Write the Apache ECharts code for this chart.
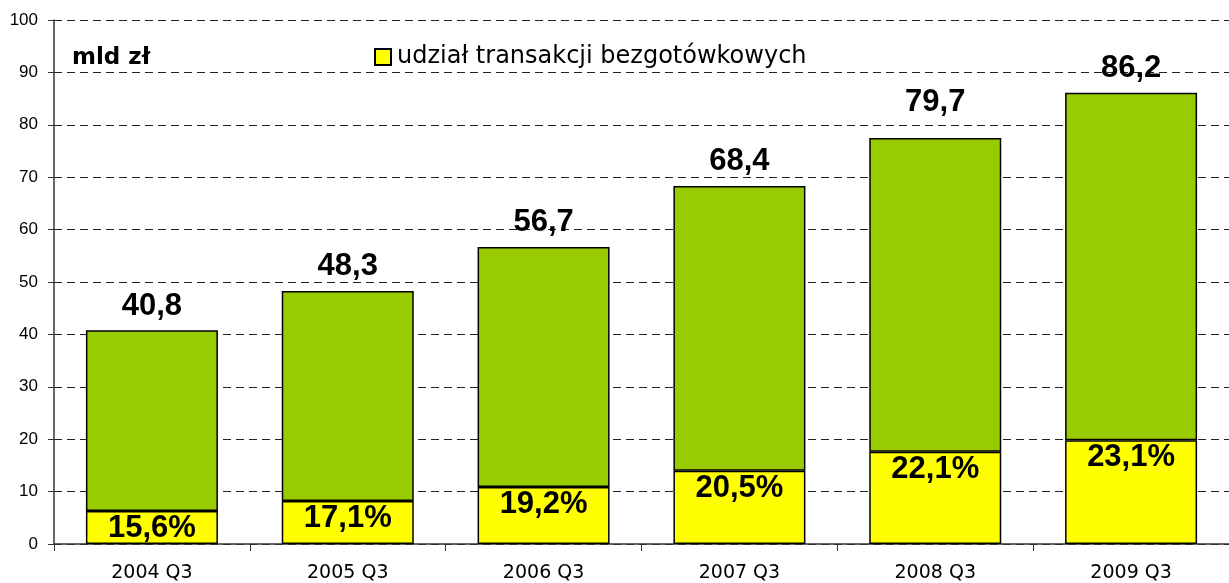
<!DOCTYPE html>
<html>
<head>
<meta charset="utf-8">
<script src="https://cdn.jsdelivr.net/npm/echarts@6/dist/echarts.min.js"></script>
<style>
  html, body { margin: 0; padding: 0; background: #fff; }
  #chart { width: 1229px; height: 583px; }
</style>
</head>
<body>
<div id="chart"></div>
<script>
var categories = ['2004 Q3', '2005 Q3', '2006 Q3', '2007 Q3', '2008 Q3', '2009 Q3']
// bezgotówkowe (żółte) i reszta (zielone), mld zł
var cashless = [6.3, 8.2, 10.9, 14.0, 17.6, 19.8]
var rest = [34.5, 40.1, 45.8, 54.3, 59.9, 66.3]
var totals = [40.8, 48.3, 56.7, 68.4, 79.7, 86.2]   // etykiety nad słupkami
var shareLabels = ['15,6%', '17,1%', '19,2%', '20,5%', '22,1%', '23,1%']

var chart = echarts.init(document.getElementById('chart'))
var arial = 'Liberation Sans, Arial, sans-serif'
var wide = 'DejaVu Sans, sans-serif'

var option = {
  animation: false,
  textStyle: { fontFamily: arial },
  title: {
    text: 'mld zł',
    left: 67, top: 42,
    textStyle: { fontSize: 23, fontWeight: 'bold', color: '#000', fontFamily: wide }
  },
  legend: {
    data: ['udział transakcji bezgotówkowych'],
    left: 369, top: 40,
    itemWidth: 16, itemHeight: 16, itemGap: 5,
    icon: 'rect',
    textStyle: { fontSize: 24, color: '#000', fontFamily: wide, padding: [0, 0, 0, 1] }
  },
  grid: { left: 54, top: 20, width: 1188, height: 524 },
  xAxis: {
    type: 'category',
    data: categories,
    axisLine: { lineStyle: { color: '#333', width: 1.5 } },
    axisTick: { show: true, length: 7, alignWithLabel: false, lineStyle: { color: '#333' } },
    axisLabel: { fontSize: 19, color: '#000', margin: 20, fontFamily: wide }
  },
  yAxis: {
    type: 'value',
    min: 0, max: 100, interval: 10,
    axisLine: { show: true, lineStyle: { color: '#333', width: 1.5 } },
    axisTick: { show: true, length: 6, lineStyle: { color: '#333' } },
    axisLabel: { fontSize: 17, color: '#000', margin: 16, fontFamily: arial },
    splitLine: { lineStyle: { color: '#222', type: [8, 5], width: 1 } }
  },
  series: [
    {
      name: 'udział transakcji bezgotówkowych',
      type: 'bar',
      stack: 'a',
      data: cashless,
      barWidth: 132,
      itemStyle: { color: '#FFFF00', borderColor: '#000', borderWidth: 1.5 },
      label: {
        show: true,
        position: 'insideTop',
        distance: 2,
        fontSize: 31, fontWeight: 'bold', color: '#000', fontFamily: arial,
        formatter: function (p) { return shareLabels[p.dataIndex] }
      }
    },
    {
      name: 'reszta',
      type: 'bar',
      stack: 'a',
      data: rest,
      barWidth: 132,
      itemStyle: { color: '#99CC00', borderColor: '#000', borderWidth: 1.5 }
    },
    {
      name: 'suma',
      type: 'scatter',
      data: totals,
      symbolSize: 1,
      itemStyle: { color: 'rgba(0,0,0,0)', opacity: 1 },
      silent: true,
      z: 5,
      label: {
        show: true,
        position: 'top',
        distance: 8,
        fontSize: 31, fontWeight: 'bold', color: '#000', fontFamily: arial,
        formatter: function (p) { return String(p.value).replace('.', ',') }
      }
    }
  ]
}
chart.setOption(option)
</script>
</body>
</html>
